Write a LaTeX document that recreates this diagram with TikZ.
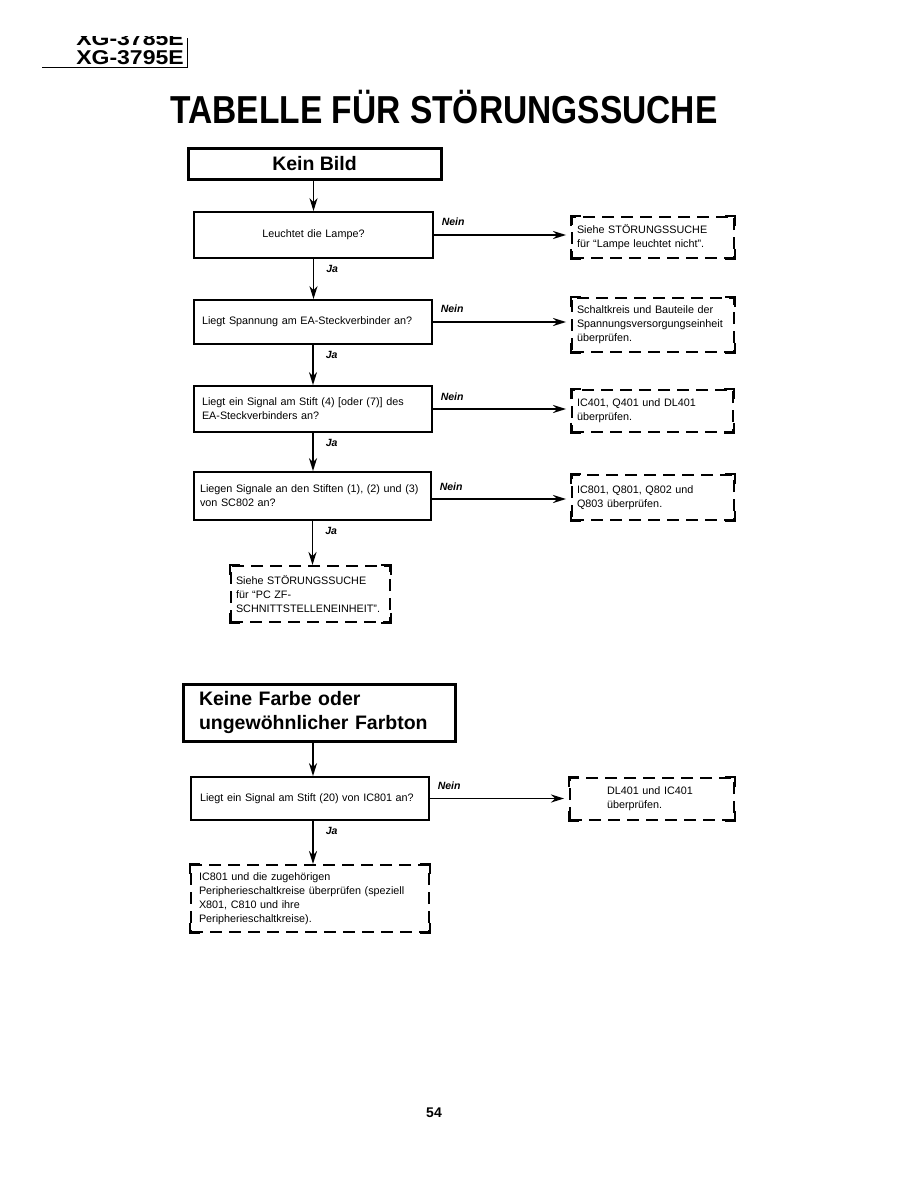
\documentclass[tikz,border=0pt]{standalone}
\usepackage{fontspec}
\setmainfont{Liberation Sans}
\usetikzlibrary{arrows.meta,calc}
\begin{document}
\begin{tikzpicture}[x=1pt,y=-1pt,
  qbox/.style={draw, line width=1.8pt, rectangle, inner xsep=6pt, inner ysep=0pt, align=left, font=\fontsize{10.8}{14}\selectfont},
  dbox/.style={draw, dash pattern=on 12pt off 7pt, line width=1.9pt, rectangle, inner xsep=5pt, inner ysep=0pt, align=left, font=\fontsize{10.8}{14}\selectfont},
  hbox/.style={draw, line width=3pt, rectangle, inner ysep=0pt, font=\bfseries\fontsize{19.5}{24}\selectfont},
  corner/.style={line width=1.9pt, line join=miter},
  arr/.style={line width=1.8pt, -{Stealth[length=13pt,width=8pt,inset=4pt]}},
  nein/.style={font=\bfseries\itshape\fontsize{10.5}{12}\selectfont, anchor=south west, inner sep=0pt, xshift=7pt, yshift=8pt},
  ja/.style={font=\bfseries\itshape\fontsize{10.5}{12}\selectfont, anchor=north west, inner sep=0pt, xshift=12pt, yshift=-5pt}]
\fill[white] (0,0) rectangle (918,1188);
\useasboundingbox (0,0) rectangle (918,1188);

% header
\begin{scope}
  \clip (0,37) rectangle (200,47);
  \node[font=\bfseries\fontsize{20}{24}\selectfont, xscale=1.15] (hdrA) at (130,39) {XG-3785E};
\end{scope}
\node[font=\bfseries\fontsize{20}{24}\selectfont, xscale=1.15] (hdrB) at (130,58) {XG-3795E};
\draw[line width=1pt] (42,68) -- (187,68) -- (187,38);

% title
\node[font=\bfseries\fontsize{39}{40}\selectfont, xscale=0.86] (title) at (444,107) {TABELLE FÜR STÖRUNGSSUCHE};

% section 1
\node[hbox, minimum width=253pt, minimum height=31pt] (h1) at (314.5,163.5) {Kein Bild};

\node[qbox, align=center, text width=227pt, minimum height=46pt] (b1) at (313.5,235) {Leuchtet die Lampe?};
\node[qbox, inner xsep=8pt, text width=222pt, minimum height=44pt] (b2) at (313,322) {Liegt Spannung am EA-Steckverbinder an?};
\node[qbox, inner xsep=8pt, text width=222pt, minimum height=46pt] (b3) at (313,409) {Liegt ein Signal am Stift (4) [oder (7)] des\\EA-Steckverbinders an?};
\node[qbox, inner xsep=6pt, text width=225pt, minimum height=48pt] (b4) at (312.5,496) {Liegen Signale an den Stiften (1), (2) und (3)\\von SC802 an?};

\node[dbox, text width=152pt, minimum height=41pt] (d1) at (653,237.5) {Siehe STÖRUNGSSUCHE\\für “Lampe leuchtet nicht”.};
\node[dbox, text width=152pt, minimum height=54pt] (d2) at (653,325) {Schaltkreis und Bauteile der\\Spannungsversorgungseinheit\\überprüfen.};
\node[dbox, text width=151pt, minimum height=42pt] (d3) at (652.5,411) {IC401, Q401 und DL401\\überprüfen.};
\node[dbox, text width=152pt, minimum height=45pt] (d4) at (653,497.5) {IC801, Q801, Q802 und\\Q803 überprüfen.};
\node[dbox, text width=149pt, minimum height=56pt] (d5) at (310.5,594) {Siehe STÖRUNGSSUCHE\\für “PC ZF-\\SCHNITTSTELLENEINHEIT”.};

\draw[arr] (b1.north |- h1.south) -- (b1.north);
\draw[arr] (b1.south) -- (b1.south |- b2.north) node[pos=0, ja] (ja1) {Ja};
\draw[arr] (b2.south) -- (b2.south |- b3.north) node[pos=0, ja] (ja2) {Ja};
\draw[arr] (b3.south) -- (b3.south |- b4.north) node[pos=0, ja] (ja3) {Ja};
\draw[arr] (b4.south) -- (b4.south |- d5.north) node[pos=0, ja] (ja4) {Ja};

\draw[arr, shorten >=5pt] (b1.east) -- (b1.east -| d1.west) node[pos=0, nein] (n1) {Nein};
\draw[arr, shorten >=5pt] (b2.east) -- (b2.east -| d2.west) node[pos=0, nein] (n2) {Nein};
\draw[arr, shorten >=5pt] (b3.east) -- (b3.east -| d3.west) node[pos=0, nein] (n3) {Nein};
\draw[arr, shorten >=5pt] ([yshift=-3pt]b4.east) -- ([yshift=-3pt]b4.east -| d4.west) node[pos=0, nein] (n4) {Nein};

% section 2
\node[hbox, align=left, inner xsep=16pt, text width=240pt, minimum height=57pt] (h2) at (319,712.5) {Keine Farbe oder\\ungewöhnlicher Farbton};
\node[qbox, inner xsep=9pt, text width=220pt, minimum height=43pt] (b6) at (310,798.5) {Liegt ein Signal am Stift (20) von IC801 an?};
\node[dbox, inner xsep=37pt, text width=90pt, minimum height=42pt] (d6) at (652,799) {DL401 und IC401\\überprüfen.};
\node[dbox, inner xsep=8pt, text width=222pt, minimum height=67pt] (d7) at (310,898.5) {IC801 und die zugehörigen\\Peripherieschaltkreise überprüfen (speziell\\X801, C810 und ihre\\Peripherieschaltkreise).};

\draw[arr] ([xshift=3pt]b6.north |- h2.south) -- ([xshift=3pt]b6.north);
\draw[arr] ([xshift=3pt]b6.south) -- ([xshift=3pt]b6.south |- d7.north) node[pos=0, ja] (ja6) {Ja};
\draw[arr, shorten >=5pt] (b6.east) -- (b6.east -| d6.west) node[pos=0, nein] (n6) {Nein};

% solid corners of dashed boxes
\foreach \n in {d1,d2,d3,d4,d5,d6,d7} {
  \draw[corner] ([yshift=-10pt]\n.north west) -- (\n.north west) -- ([xshift=10pt]\n.north west);
  \draw[corner] ([yshift=-10pt]\n.north east) -- (\n.north east) -- ([xshift=-10pt]\n.north east);
  \draw[corner] ([yshift=10pt]\n.south west) -- (\n.south west) -- ([xshift=10pt]\n.south west);
  \draw[corner] ([yshift=10pt]\n.south east) -- (\n.south east) -- ([xshift=-10pt]\n.south east);
}

% page number
\node[font=\bfseries\fontsize{14}{16}\selectfont] (page) at (434,1113) {54};
\end{tikzpicture}
\end{document}
